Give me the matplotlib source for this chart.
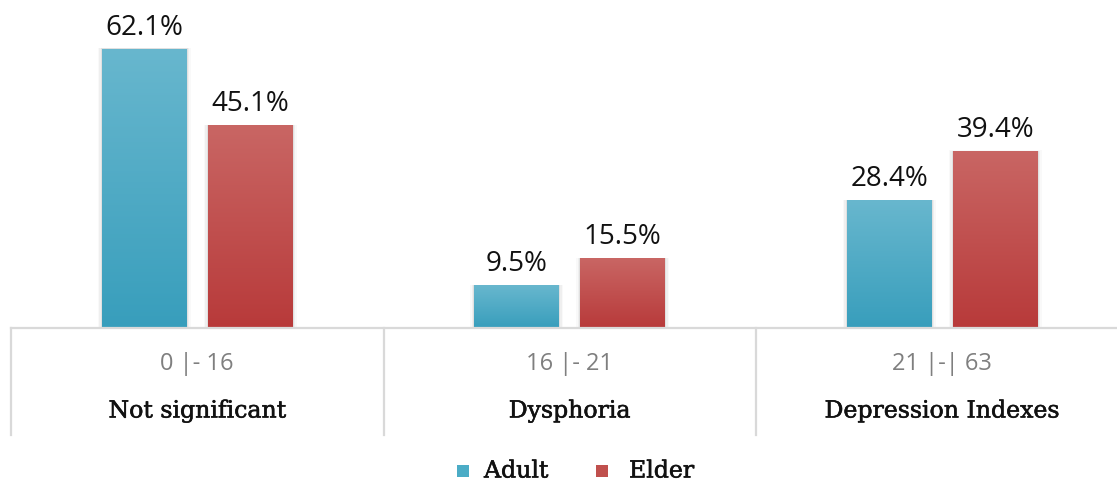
import matplotlib
matplotlib.use("Agg")
import matplotlib.pyplot as plt
import matplotlib.patheffects as pe
import numpy as np
from matplotlib.colors import LinearSegmentedColormap
from matplotlib.patches import Rectangle
from matplotlib.lines import Line2D

# ── Data ──────────────────────────────────────────────────────────────────────
ranges = ["0 |- 16", "16 |- 21", "21 |-| 63"]
categories = ["Not significant", "Dysphoria", "Depression Indexes"]
series = ["Adult", "Elder"]
adult = [62.1, 9.5, 28.4]
elder = [45.1, 15.5, 39.4]

# ── Style ─────────────────────────────────────────────────────────────────────
W, H, DPI = 1117, 483, 100
GRID = "#D9D9D9"
GRAD = {
    "Adult": ("#68B7CE", "#389EBC"),
    "Elder": ("#C96664", "#B83A3A"),
}
SOLID = {"Adult": "#4BACC6", "Elder": "#C0504D"}
SANS = ["Open Sans", "DejaVu Sans"]
SERIF = ["DejaVu Serif"]
HEAVY = [pe.withStroke(linewidth=0.4, foreground="#111111")]

fig = plt.figure(figsize=(W / DPI, H / DPI), dpi=DPI)
fig.patch.set_facecolor("white")

# axes in pixel terms: baseline at y=328, category width 372.5 px, left at 11 px
cat_w = 372.5
ax = fig.add_axes([11 / W, (H - 328) / H, 3 * cat_w / W, 328 / H])
ax.set_xlim(-0.5, 2.5)
ax.set_ylim(0, 328 / 4.5)
ax.axis("off")

bw = 85 / cat_w
gap = 21 / cat_w
x = np.arange(len(categories))
offsets = {"Adult": -(bw + gap) / 2, "Elder": (bw + gap) / 2}
values = {"Adult": adult, "Elder": elder}

grad = np.linspace(0, 1, 256).reshape(-1, 1)
for name in series:
    cmap = LinearSegmentedColormap.from_list(name, [GRAD[name][1], GRAD[name][0]])
    bars = ax.bar(x + offsets[name], values[name], bw, color="none", zorder=3)
    for b, v in zip(bars, values[name]):
        x0, y0, w_, h_ = b.get_x(), b.get_y(), b.get_width(), b.get_height()
        # soft shadow
        for k, a in [(0.011, 0.025), (0.007, 0.04), (0.003, 0.06)]:
            ax.add_patch(Rectangle((x0 - k, y0), w_ + 2 * k, h_ + k * 6,
                                   facecolor="#000000", alpha=a,
                                   edgecolor="none", zorder=2))
        im = ax.imshow(grad, cmap=cmap, origin="lower", aspect="auto",
                       extent=(x0, x0 + w_, y0, y0 + h_), zorder=3)
        im.set_clip_path(b)
        ax.text(x0 + w_ / 2, v + 21 / 4.5, f"{v}%", ha="center", va="center",
                fontsize=20, color="#111111", family=SANS, zorder=5)

# ── Category table below axis ─────────────────────────────────────────────────
fig_ax = fig.add_axes([0, 0, 1, 1])
fig_ax.set_xlim(0, W)
fig_ax.set_ylim(H, 0)
fig_ax.axis("off")
fig_ax.add_line(Line2D([11, W], [328, 328], color=GRID, lw=1.6))
for i in range(len(categories)):
    xl = 11 + i * cat_w
    fig_ax.add_line(Line2D([xl, xl], [328, 435], color=GRID, lw=1.6))
    xc = xl + cat_w / 2
    fig_ax.text(xc, 364, ranges[i], ha="center", va="center",
                fontsize=17, color="#7F7F7F", family=SANS)
    fig_ax.text(xc, 411, categories[i], ha="center", va="center",
                fontsize=17, color="#111111", family=SERIF, path_effects=HEAVY)

# ── Legend ────────────────────────────────────────────────────────────────────
for name, sx, tx in [("Adult", 463, 484), ("Elder", 602, 629)]:
    fig_ax.add_patch(Rectangle((sx - 6, 471 - 6), 12, 12,
                               facecolor=SOLID[name], edgecolor="none"))
    fig_ax.text(tx, 471, name, ha="left", va="center",
                fontsize=17, color="#111111", family=SERIF, path_effects=HEAVY)

fig.savefig("out.png", dpi=DPI, facecolor="white")
plt.close()
